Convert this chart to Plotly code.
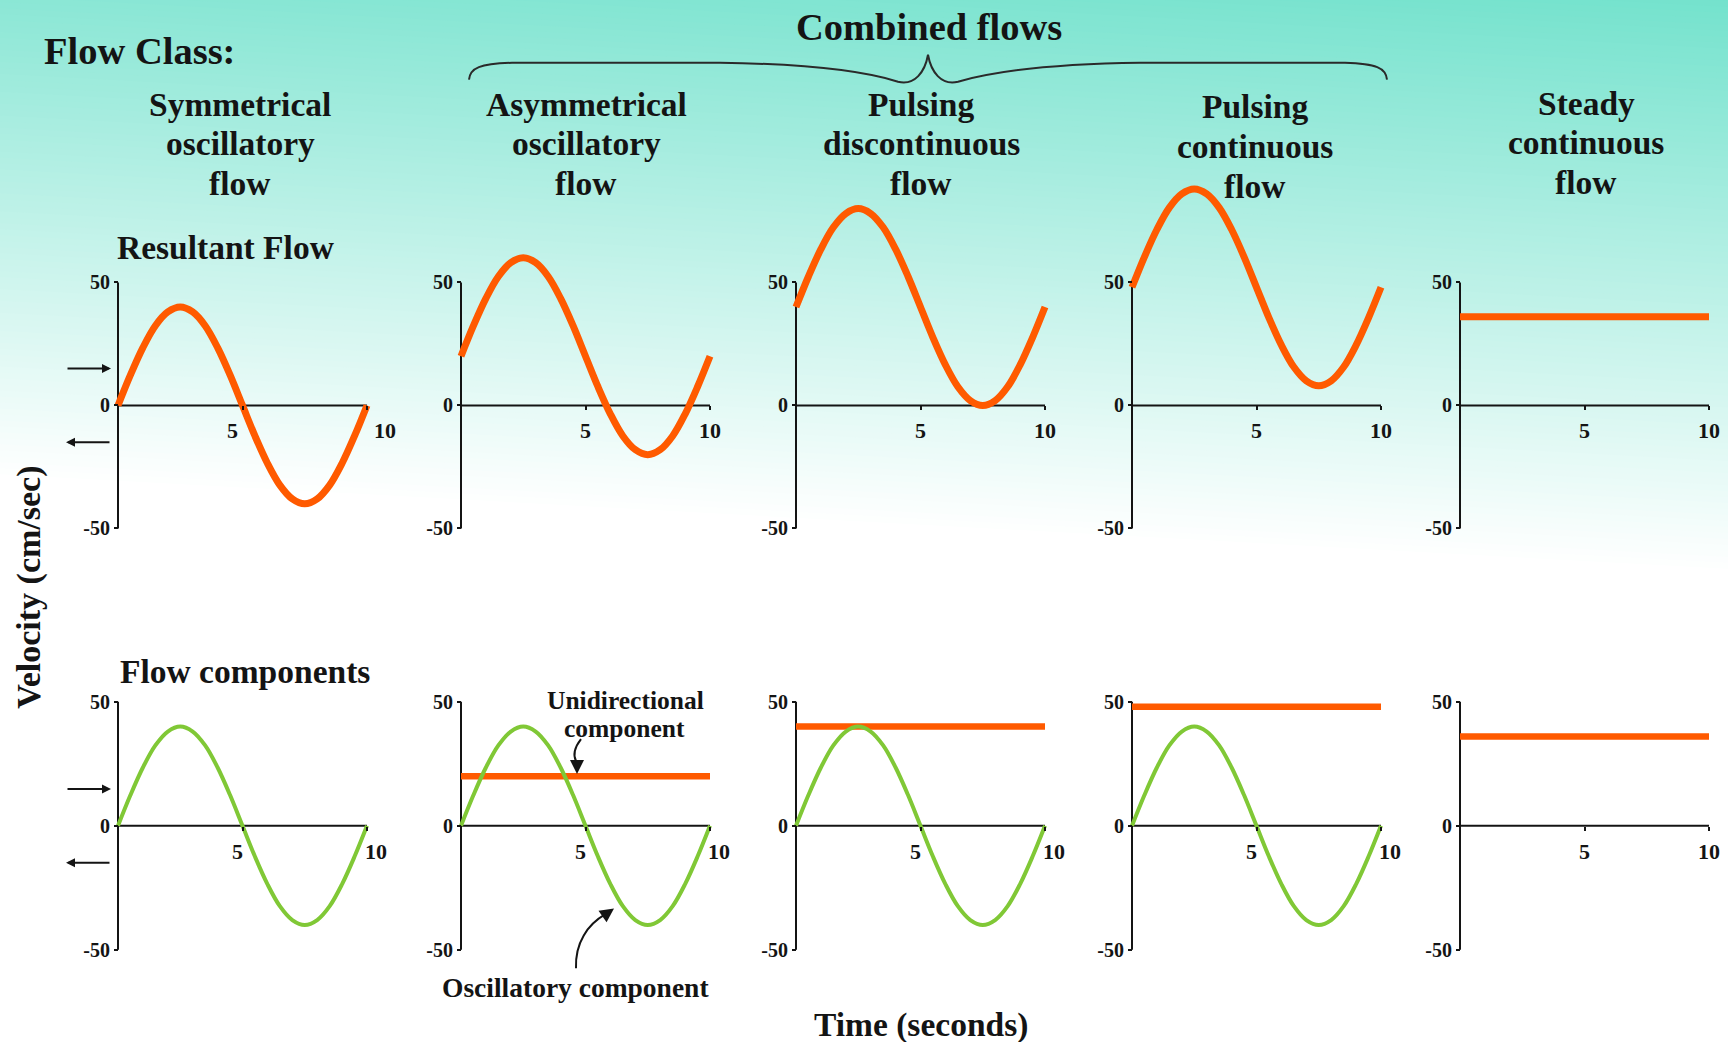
import plotly.graph_objects as go

W, H = 1728, 1042

# ---------------- data ----------------
time_s = [0, 0.5, 1, 1.5, 2, 2.5, 3, 3.5, 4, 4.5, 5,
          5.5, 6, 6.5, 7, 7.5, 8, 8.5, 9, 9.5, 10]
# oscillatory component (cm/sec), read every 0.5 s
oscillatory = [0, 12.4, 23.5, 32.4, 38.0, 40, 38.0, 32.4, 23.5, 12.4, 0,
               -12.4, -23.5, -32.4, -38.0, -40, -38.0, -32.4, -23.5, -12.4, 0]

flow_classes = [
    ["Symmetrical", "oscillatory", "flow"],
    ["Asymmetrical", "oscillatory", "flow"],
    ["Pulsing", "discontinuous", "flow"],
    ["Pulsing", "continuous", "flow"],
    ["Steady", "continuous", "flow"],
]
unidirectional = [0, 20, 40, 48, 36]          # steady component per class
has_oscillation = [True, True, True, True, False]
has_unidirectional = [False, True, True, True, True]

y_tick_vals = [-50, 0, 50]
y_tick_text = ["-50", "0", "50"]
x_tick_vals = [5, 10]
x_tick_text = ["5", "10"]

# ---------------- styling ----------------
ORANGE = "#ff5a00"
GREEN = "#80c836"
INK = "#141414"
SERIF = "Liberation Serif"

col_zero_px = [118, 461, 796, 1132, 1460]     # pixel x of t = 0
px_per_s = 24.9
rows = [  # zero line pixel y, px per cm/sec, y range
    dict(zero=407, ppu=2.47, yr=[-53, 96]),
    dict(zero=829, ppu=2.49, yr=[-53, 56]),
]
XR = [-0.5, 10.5]
# horizontal nudges (px) of the "5" / "10" labels in each panel
label_nudge = [
    [(-10, 18), (0, 0), (0, 0), (0, 0), (0, 0)],
    [(-5, 9), (-5, 9), (-5, 9), (-5, 9), (0, 0)],
]


def px(x, y):
    return x / W, 1 - y / H


fig = go.Figure()
shapes = []
annotations = []

# ---- background wash: teal at the top fading to white, slightly tilted ----
slope = 0.055
s_start, s_end, step = -100, 480, 6
c_top = (116, 226, 205)
c_end = (255, 255, 255)
s = s_start
while s < s_end:
    mid = s + step / 2
    f = min(max((mid - (-95)) / (s_end - (-95)), 0), 1)
    col = tuple(round(c_top[i] + (c_end[i] - c_top[i]) * f) for i in range(3))
    y0a, y1a = s, s + step + 1
    pts = [(0, y0a), (W, y0a + slope * W), (W, y1a + slope * W), (0, y1a)]
    path = "M " + " L ".join(f"{p[0]/W:.5f},{1 - p[1]/H:.5f}" for p in pts) + " Z"
    shapes.append(dict(type="path", xref="paper", yref="paper", path=path,
                       fillcolor=f"rgb{col}", line=dict(width=0), layer="below"))
    s += step

# ---------------- panels ----------------
k = 0
for r, row in enumerate(rows):
    for c in range(5):
        k += 1
        xa = "x" if k == 1 else f"x{k}"
        ya = "y" if k == 1 else f"y{k}"
        x0 = col_zero_px[c]
        left = x0 + XR[0] * px_per_s
        right = x0 + XR[1] * px_per_s
        top = row["zero"] - row["yr"][1] * row["ppu"]
        bottom = row["zero"] - row["yr"][0] * row["ppu"]
        fig.layout[f"xaxis{k if k > 1 else ''}"] = dict(
            domain=[left / W, right / W], range=XR, anchor="free",
            position=1 - row["zero"] / H, tickvals=x_tick_vals,
            ticks="outside", ticklen=4, tickwidth=1.5, tickcolor=INK,
            showticklabels=False,
            showline=False, showgrid=False, zeroline=False, fixedrange=True)
        fig.layout[f"yaxis{k if k > 1 else ''}"] = dict(
            domain=[1 - bottom / H, 1 - top / H], range=row["yr"], anchor="free",
            position=x0 / W, tickvals=y_tick_vals, ticktext=y_tick_text,
            ticks="outside", ticklen=4, tickwidth=1.5, tickcolor=INK,
            showline=False, showgrid=False, zeroline=False,
            tickfont=dict(family=SERIF, size=20, color=INK, weight="bold"),
            fixedrange=True)
        # x tick labels, placed under the zero line
        for tv, tt, dx in zip(x_tick_vals, x_tick_text, label_nudge[r][c]):
            annotations.append(dict(
                x=tv, y=0, xref=xa, yref=ya, text=tt, showarrow=False,
                xanchor="center", yanchor="top", xshift=dx, yshift=-11,
                font=dict(family=SERIF, size=22, color=INK, weight="bold")))
        # axis lines
        shapes.append(dict(type="line", xref=xa, yref=ya, x0=0, x1=10, y0=0, y1=0,
                           line=dict(color=INK, width=2), layer="below"))
        shapes.append(dict(type="line", xref=xa, yref=ya, x0=0, x1=0, y0=-50, y1=50,
                           line=dict(color=INK, width=2), layer="below"))

        if r == 0:
            # resultant flow = unidirectional + oscillatory
            if has_oscillation[c]:
                yv = [unidirectional[c] + v for v in oscillatory]
            else:
                yv = [unidirectional[c] for _ in time_s]
            fig.add_trace(go.Scatter(x=time_s, y=yv, mode="lines", xaxis=xa, yaxis=ya,
                                     line=dict(color=ORANGE, width=7, shape="spline"),
                                     hoverinfo="skip", showlegend=False))
        else:
            if has_unidirectional[c]:
                fig.add_trace(go.Scatter(x=[time_s[0], time_s[-1]],
                                         y=[unidirectional[c], unidirectional[c]],
                                         mode="lines", xaxis=xa, yaxis=ya,
                                         line=dict(color=ORANGE, width=6.5),
                                         hoverinfo="skip", showlegend=False))
            if has_oscillation[c]:
                fig.add_trace(go.Scatter(x=time_s, y=oscillatory, mode="lines",
                                         xaxis=xa, yaxis=ya,
                                         line=dict(color=GREEN, width=4, shape="spline"),
                                         hoverinfo="skip", showlegend=False))


def text(t, x, y, size, angle=0, xanchor="center"):
    px_x, px_y = px(x, y)
    annotations.append(dict(text=t, x=px_x, y=px_y, xref="paper", yref="paper",
                            xanchor=xanchor, yanchor="middle", showarrow=False,
                            textangle=angle,
                            font=dict(family=SERIF, size=size, color=INK, weight="bold")))


text("Flow Class:", 42, 51, 38.5, xanchor="left")
text("Combined flows", 929, 27, 38.5)

head_x = [240, 586, 921, 1255, 1586]
head_y = [[105, 144, 184], [105, 144, 184], [105, 144, 184], [107, 147, 187], [104, 143, 183]]
for c, lines in enumerate(flow_classes):
    for j, line in enumerate(lines):
        text(line, head_x[c], head_y[c][j], 33.5)

text("Resultant Flow", 226, 248, 33.5)
text("Flow components", 245, 674, 33.5)
text("Velocity (cm/sec)", 29, 590, 34, angle=-90)
text("Time (seconds)", 921, 1029, 33.5)
text("Unidirectional", 625, 703, 25.5)
text("component", 624, 731, 25.5)
text("Oscillatory component", 575, 991, 27.5)


def path_px(d):
    out = []
    for tok in d.split():
        if "," in tok:
            a, b = tok.split(",")
            xx, yy = px(float(a), float(b))
            out.append(f"{xx:.5f},{yy:.5f}")
        else:
            out.append(tok)
    return " ".join(out)


# brace spanning the combined-flow classes
brace = ("M 469,80 C 470,68 480,64 512,63 L 720,63 C 800,64 860,70 898,82 "
         "C 915,86 925,72 928,55 C 931,72 941,86 958,82 C 1000,70 1060,64 1140,63 "
         "L 1345,63 C 1376,64 1386,68 1387,80")
shapes.append(dict(type="path", xref="paper", yref="paper", path=path_px(brace),
                   line=dict(color="#2a2a2a", width=2)))

# curved pointers to the two components
shapes.append(dict(type="path", xref="paper", yref="paper",
                   path=path_px("M 581,742 C 574,751 573,758 576,764"),
                   line=dict(color=INK, width=2)))
shapes.append(dict(type="path", xref="paper", yref="paper",
                   path=path_px("M 576,972 C 575,946 588,928 605,918"),
                   line=dict(color=INK, width=2)))


def arrow(xh, yh, ax, ay, size=1.0):
    hx, hy = px(xh, yh)
    annotations.append(dict(x=hx, y=hy, xref="paper", yref="paper", ax=ax, ay=ay,
                            text="", showarrow=True, arrowhead=2, arrowsize=size,
                            arrowwidth=2, arrowcolor=INK))


arrow(577, 777, 0, -14, 1.4)
arrow(614, 912, -10, 7, 1.4)

# direction arrows beside the symmetrical panels
for yy_r, yy_l in [(370, 444), (792, 866)]:
    arrow(111, yy_r, -45, 0, 0.9)
    arrow(66, yy_l, 45, 0, 0.9)

fig.update_layout(
    width=W, height=H, margin=dict(l=0, r=0, t=0, b=0),
    paper_bgcolor="white", plot_bgcolor="rgba(0,0,0,0)",
    shapes=shapes, annotations=annotations, showlegend=False,
)

fig.write_html("out.html", config={"displayModeBar": False})
